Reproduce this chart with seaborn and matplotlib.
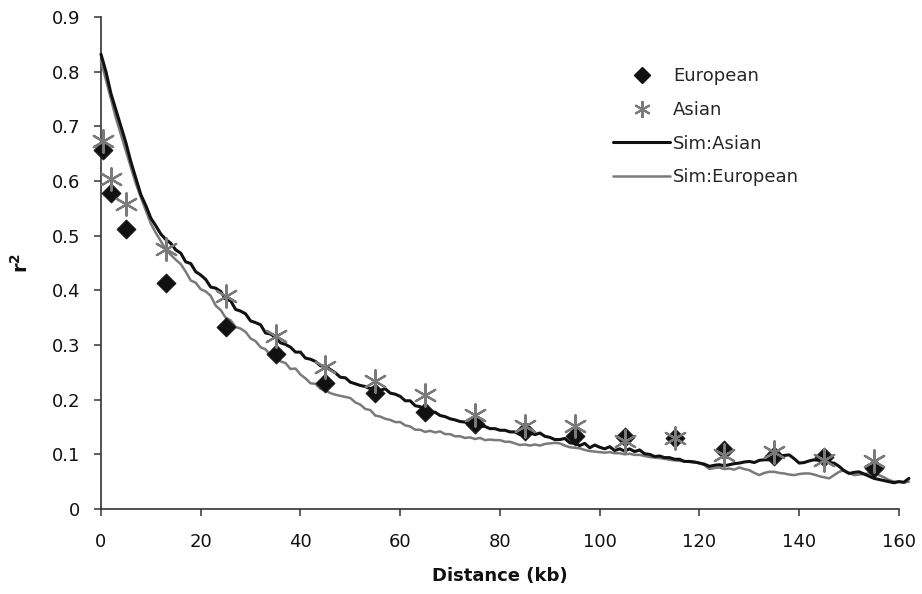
import numpy as np
import pandas as pd
import matplotlib
matplotlib.use("Agg")
import matplotlib.pyplot as plt
import seaborn as sns
from matplotlib.lines import Line2D

# ---- data ----
marker_x = [0.5, 2, 5, 13, 25, 35, 45, 55, 65, 75, 85, 95, 105, 115, 125, 135, 145, 155]
european_y = [0.657, 0.578, 0.512, 0.413, 0.333, 0.284, 0.230, 0.212, 0.178, 0.156,
              0.142, 0.134, 0.131, 0.129, 0.108, 0.097, 0.096, 0.075]
asian_y = [0.673, 0.603, 0.557, 0.476, 0.389, 0.317, 0.260, 0.235, 0.209, 0.172,
           0.151, 0.151, 0.124, 0.129, 0.099, 0.105, 0.090, 0.087]

sim_x = list(range(0, 163))
sim_asian = [
    0.832, 0.800, 0.760, 0.730, 0.700, 0.670, 0.635, 0.605, 0.575, 0.555,
    0.532, 0.518, 0.503, 0.493, 0.486, 0.474, 0.468, 0.452, 0.449, 0.434,
    0.428, 0.420, 0.406, 0.404, 0.398, 0.384, 0.381, 0.365, 0.362, 0.357,
    0.344, 0.341, 0.337, 0.322, 0.320, 0.314, 0.304, 0.301, 0.296, 0.287,
    0.287, 0.276, 0.274, 0.270, 0.262, 0.261, 0.255, 0.249, 0.241, 0.240,
    0.232, 0.229, 0.226, 0.224, 0.220, 0.223, 0.217, 0.220, 0.212, 0.210,
    0.206, 0.198, 0.198, 0.189, 0.187, 0.183, 0.178, 0.177, 0.171, 0.169,
    0.165, 0.163, 0.160, 0.159, 0.155, 0.156, 0.152, 0.151, 0.147, 0.147,
    0.144, 0.144, 0.141, 0.141, 0.136, 0.139, 0.140, 0.136, 0.139, 0.133,
    0.131, 0.127, 0.127, 0.129, 0.121, 0.120, 0.116, 0.120, 0.112, 0.117,
    0.113, 0.110, 0.114, 0.107, 0.110, 0.106, 0.110, 0.105, 0.108, 0.101,
    0.100, 0.096, 0.097, 0.094, 0.094, 0.091, 0.091, 0.087, 0.087, 0.086,
    0.084, 0.082, 0.078, 0.080, 0.081, 0.079, 0.081, 0.083, 0.084, 0.086,
    0.087, 0.085, 0.089, 0.090, 0.090, 0.093, 0.096, 0.098, 0.099, 0.092,
    0.084, 0.085, 0.088, 0.090, 0.089, 0.086, 0.085, 0.084, 0.078, 0.070,
    0.065, 0.067, 0.068, 0.064, 0.060, 0.056, 0.054, 0.052, 0.050, 0.048,
    0.050, 0.049, 0.056]
sim_european = [
    0.820, 0.785, 0.750, 0.715, 0.685, 0.655, 0.625, 0.595, 0.570, 0.546,
    0.522, 0.505, 0.490, 0.474, 0.465, 0.456, 0.448, 0.434, 0.418, 0.414,
    0.402, 0.398, 0.390, 0.372, 0.364, 0.350, 0.345, 0.333, 0.330, 0.324,
    0.312, 0.307, 0.296, 0.292, 0.281, 0.277, 0.270, 0.267, 0.256, 0.257,
    0.246, 0.239, 0.230, 0.229, 0.220, 0.217, 0.212, 0.209, 0.207, 0.205,
    0.203, 0.195, 0.191, 0.183, 0.181, 0.171, 0.169, 0.165, 0.163, 0.159,
    0.159, 0.153, 0.151, 0.145, 0.145, 0.141, 0.143, 0.140, 0.142, 0.137,
    0.137, 0.133, 0.133, 0.130, 0.131, 0.128, 0.130, 0.126, 0.127, 0.126,
    0.126, 0.123, 0.123, 0.120, 0.117, 0.118, 0.116, 0.118, 0.116, 0.119,
    0.120, 0.121, 0.120, 0.116, 0.113, 0.112, 0.111, 0.108, 0.106, 0.105,
    0.104, 0.103, 0.104, 0.102, 0.102, 0.100, 0.101, 0.099, 0.099, 0.097,
    0.095, 0.094, 0.093, 0.092, 0.090, 0.089, 0.088, 0.087, 0.086, 0.085,
    0.084, 0.080, 0.073, 0.075, 0.076, 0.073, 0.074, 0.072, 0.076, 0.073,
    0.071, 0.066, 0.062, 0.066, 0.068, 0.068, 0.066, 0.065, 0.063, 0.062,
    0.064, 0.065, 0.065, 0.063, 0.060, 0.058, 0.056, 0.062, 0.068, 0.071,
    0.066, 0.062, 0.063, 0.064, 0.065, 0.065, 0.062, 0.058, 0.053, 0.050,
    0.050, 0.048, 0.050]

x_ticks = [0, 20, 40, 60, 80, 100, 120, 140, 160]
y_ticks = [0, 0.1, 0.2, 0.3, 0.4, 0.5, 0.6, 0.7, 0.8, 0.9]
y_tick_labels = ["0", "0.1", "0.2", "0.3", "0.4", "0.5", "0.6", "0.7", "0.8", "0.9"]

sims = pd.DataFrame({
    "x": sim_x * 2,
    "y": sim_asian + sim_european,
    "series": ["Sim:Asian"] * len(sim_x) + ["Sim:European"] * len(sim_x),
})

# ---- plot ----
sns.set_theme(style="white")
plt.rcParams["font.family"] = ["DejaVu Sans"]

fig = plt.figure(figsize=(9.22, 5.94), dpi=100)
ax = fig.add_axes([0.1095, 0.1431, 0.8655, 0.8283])

BLACK = "#111111"
GRAY = "#7a7a7a"

sns.lineplot(data=sims, x="x", y="y", hue="series",
             palette={"Sim:Asian": BLACK, "Sim:European": GRAY},
             hue_order=["Sim:European", "Sim:Asian"],
             linewidth=2.2, ax=ax, legend=False, clip_on=False, zorder=3)
for l in ax.lines:
    if matplotlib.colors.to_hex(l.get_color()) == GRAY:
        l.set_linewidth(1.8)

sns.scatterplot(x=marker_x, y=european_y, marker="D", s=95, color=BLACK,
                edgecolor=BLACK, linewidth=0.5, ax=ax, zorder=4, clip_on=False)
sns.scatterplot(x=marker_x, y=asian_y, marker=(6, 2, 0), s=260, color=GRAY,
                edgecolor=GRAY, linewidth=1.6, ax=ax, zorder=5, clip_on=False)

ax.set_xlim(0, 160)
ax.set_ylim(0, 0.9)
ax.set_xticks(x_ticks)
ax.set_xticklabels([str(t) for t in x_ticks])
ax.set_yticks(y_ticks)
ax.set_yticklabels(y_tick_labels)

for s in ["top", "right"]:
    ax.spines[s].set_visible(False)
for s in ["left", "bottom"]:
    ax.spines[s].set_color("#333333")
    ax.spines[s].set_linewidth(1.2)

ax.tick_params(axis="both", which="both", direction="out", length=5, width=1.1,
               color="#333333", labelsize=13, labelcolor="#111111",
               bottom=True, left=True)
ax.tick_params(axis="x", pad=12)
ax.tick_params(axis="y", pad=10)

ax.set_xlabel("Distance (kb)", fontsize=13, fontweight="bold", labelpad=12, color="#111111")
ax.set_ylabel(r"$\mathbf{r^2}$", fontsize=14, labelpad=14, color="#111111")

handles = [
    Line2D([], [], linestyle="none", marker="D", markersize=8, color=BLACK),
    Line2D([], [], linestyle="none", marker=(6, 2, 0), markersize=12,
           markeredgewidth=1.5, color=GRAY),
    Line2D([], [], color=BLACK, linewidth=2.2),
    Line2D([], [], color=GRAY, linewidth=1.8),
]
labels = ["European", "Asian", "Sim:Asian", "Sim:European"]
fig.legend(handles, labels, loc="upper left", bbox_to_anchor=(0.665, 0.887),
           frameon=False, fontsize=13, handlelength=3.15, handletextpad=0.17,
           labelspacing=0.87, borderaxespad=0, borderpad=0)

fig.savefig("out.png", dpi=100)
